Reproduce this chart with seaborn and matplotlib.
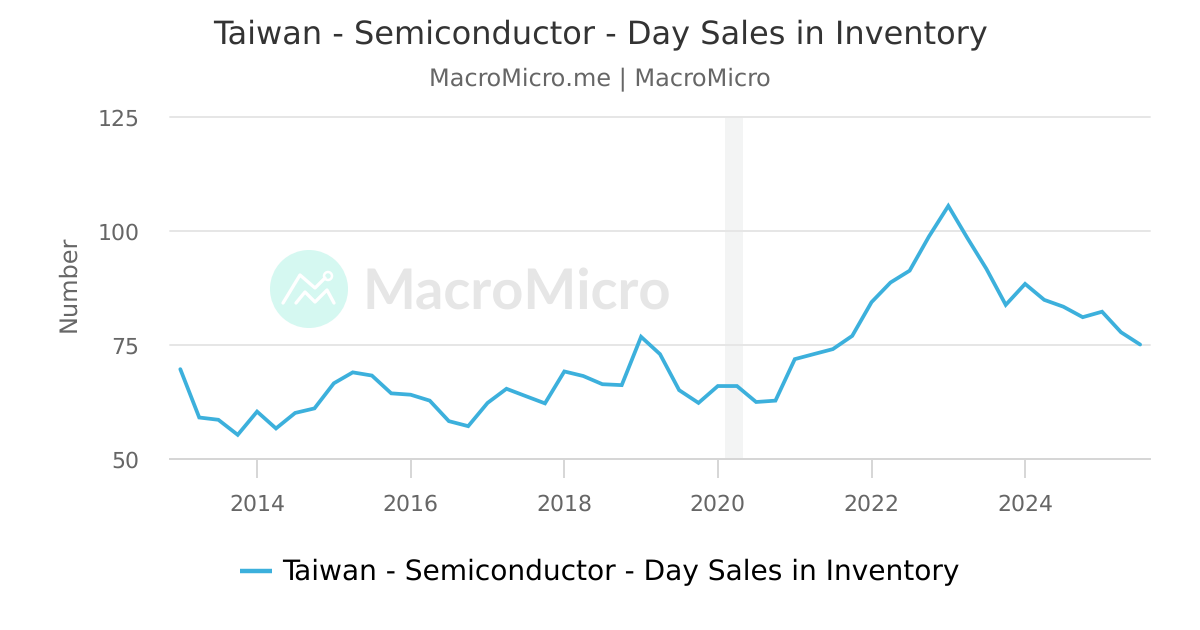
import matplotlib
matplotlib.use("Agg")
import matplotlib.dates as mdates
import matplotlib.pyplot as plt
from matplotlib.patches import Circle
import pandas as pd
import seaborn as sns

TITLE = "Taiwan - Semiconductor - Day Sales in Inventory"

quarters = pd.date_range("2013-01-01", "2025-07-01", freq="QS")
values = [
    69.7, 59.1, 58.6, 55.3, 60.4, 56.7, 60.1, 61.1, 66.6, 69.0, 68.3, 64.4,
    64.1, 62.8, 58.3, 57.2, 62.3, 65.4, 63.8, 62.2, 69.2, 68.2, 66.4, 66.2,
    76.8, 73.0, 65.1, 62.3, 66.0, 66.0, 62.5, 62.8, 71.9, 73.0, 74.1, 77.0,
    84.4, 88.7, 91.3, 98.8, 105.5, 98.5, 91.7, 83.8, 88.4, 84.9, 83.4, 81.1,
    82.3, 77.8, 75.1,
]
y_ticks = [50, 75, 100, 125]
x_tick_years = [2014, 2016, 2018, 2020, 2022, 2024]
band_start = "2020-02-06"
band_end = "2020-05-01"

sns.set_theme(style="white")
plt.rcParams["font.family"] = ["DejaVu Sans"]
plt.rcParams["text.hinting"] = "no_hinting"
plt.rcParams["text.hinting_factor"] = 1

W, H = 1200, 630
fig = plt.figure(figsize=(12, 6.3), dpi=100)
ax = fig.add_axes([170 / W, 1 - 459 / H, 980 / W, 342 / H])
ax.patch.set_alpha(0)

df = pd.DataFrame({"date": quarters, "value": values})
ax.axvspan(pd.Timestamp(band_start), pd.Timestamp(band_end), color="#f3f4f4", lw=0, zorder=1)
sns.lineplot(data=df, x="date", y="value", ax=ax, color="#3cb0dc", linewidth=2.7,
             zorder=4, solid_joinstyle="miter", legend=False)

ax.set_xlim(pd.Timestamp("2012-11-13"), pd.Timestamp("2025-08-17"))
ax.set_ylim(50, 125)
ax.set_yticks(y_ticks)
ax.set_xticks([pd.Timestamp(f"{y}-01-01") for y in x_tick_years])
ax.xaxis.set_major_formatter(mdates.DateFormatter("%Y"))

ax.grid(axis="y", color="#e6e6e6", linewidth=1.4, zorder=2, clip_on=False)
ax.grid(axis="x", visible=False)
ax.set_axisbelow(False)
for side in ["top", "left", "right"]:
    ax.spines[side].set_visible(False)
ax.spines["bottom"].set_color("#d6d6d6")
ax.spines["bottom"].set_linewidth(1.4)
ax.spines["bottom"].set_zorder(3)
ax.tick_params(axis="x", length=14, width=1.4, color="#d6d6d6", labelcolor="#666666",
               labelsize=15.5, pad=11, bottom=True)
ax.tick_params(axis="y", length=0, labelcolor="#666666", labelsize=15.5, pad=22)
ax.set_xlabel("")
ax.set_ylabel("Number", fontsize=17.5, color="#666666")
ax.yaxis.set_label_coords(-90 / 980, 0.505 + 3 / 342)

fig.text(600 / W, 1 - 35 / H, TITLE, ha="center", va="center", fontsize=23, color="#333333")
fig.text(600 / W, 1 - 80 / H, "MacroMicro.me | MacroMicro", ha="center", va="center",
         fontsize=17, color="#666666")

# watermark
bg = fig.add_axes([0, 0, 1, 1], zorder=-1)
bg.set_xlim(0, W)
bg.set_ylim(H, 0)
bg.set_aspect("equal")
bg.axis("off")
bg.add_patch(Circle((309, 289), 39, color="#d5f8f1", lw=0))
bg.plot([283, 300, 315, 325], [303, 275, 288, 278], color="white", lw=2.4)
bg.plot([296, 305, 315, 327, 334], [303, 292, 302, 290, 303], color="white", lw=2.4)
bg.add_patch(Circle((328, 276), 4, fc="#d5f8f1", ec="white", lw=1.8))
bg.text(362, 292, "MacroMicro", ha="left", va="center", fontsize=40.5, family="Lato",
        fontweight="bold", color="#e6e6e6")

# legend
fig.lines.append(plt.Line2D([240 / W, 272 / W], [1 - 571 / H] * 2, transform=fig.transFigure,
                            color="#3cb0dc", linewidth=3.2, solid_capstyle="butt"))
fig.text(282 / W, 1 - 572 / H, TITLE, ha="left", va="center", fontsize=20, color="black")

fig.savefig("out.png", dpi=100)
